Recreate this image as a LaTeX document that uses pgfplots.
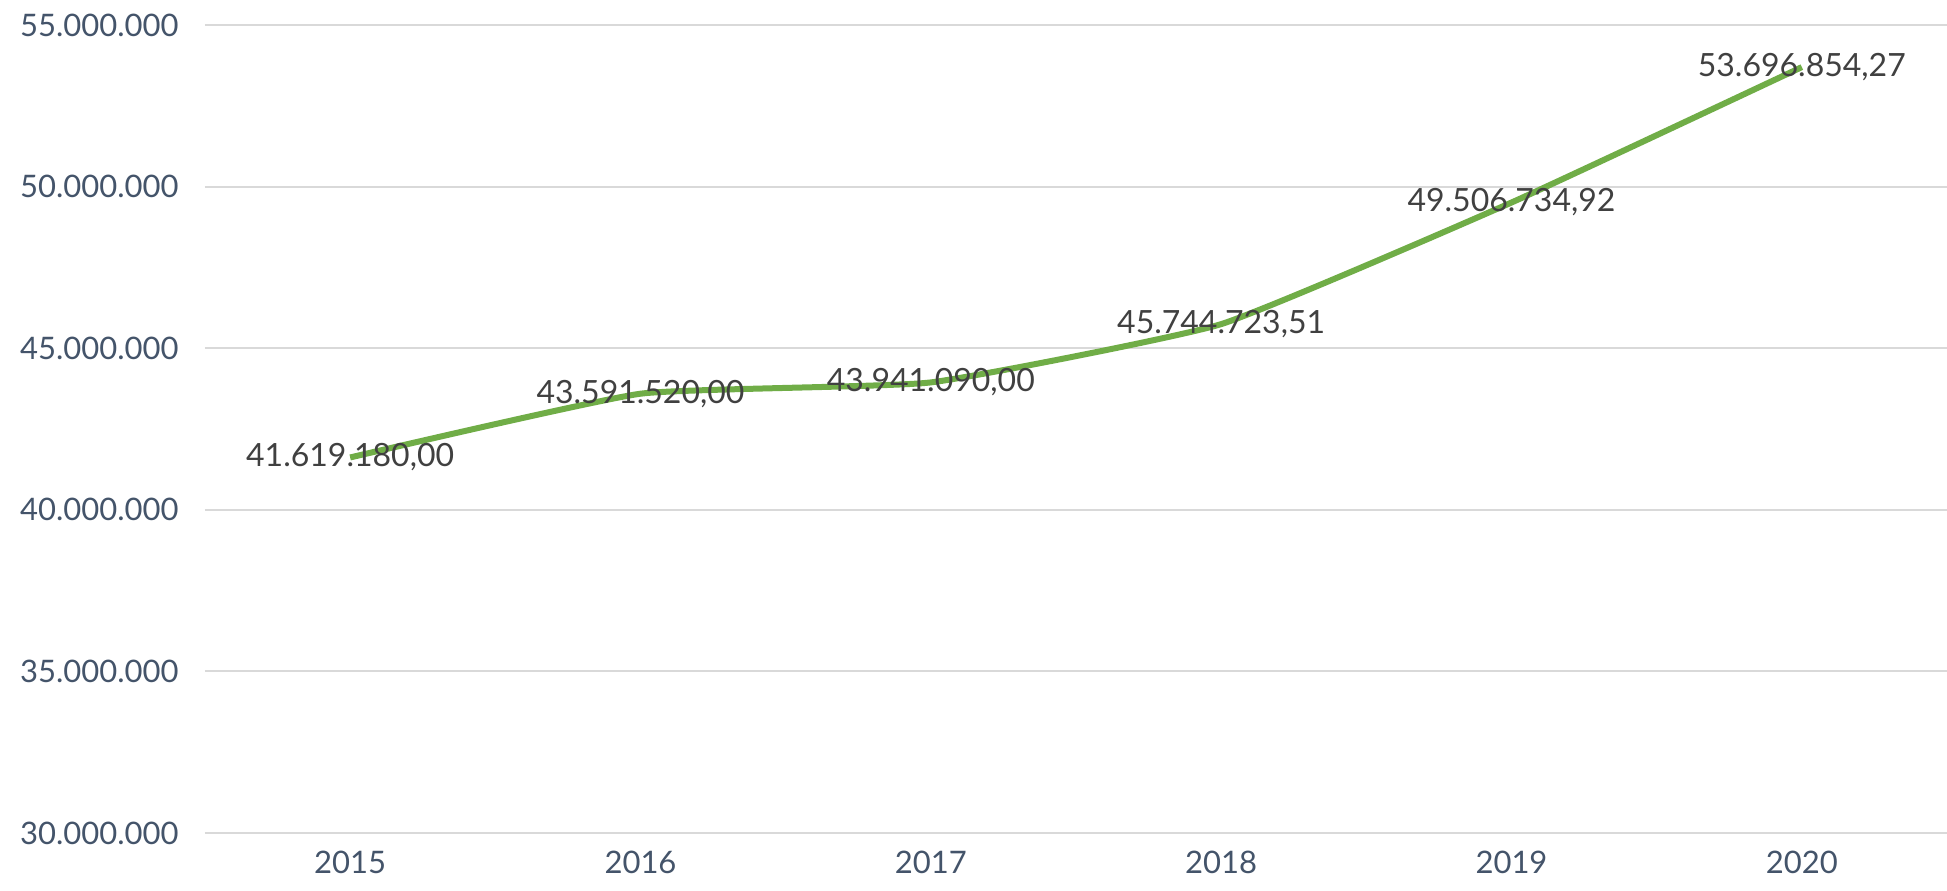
\documentclass[border=0pt]{standalone}
\usepackage{pgfplots}
\pgfplotsset{compat=1.18}
\usepackage{pgfplotstable}
\usepackage{fontspec}
\setmainfont{Lato}
\definecolor{linegreen}{HTML}{70AD47}
\definecolor{ticktext}{HTML}{44546A}
\definecolor{labeltext}{HTML}{404040}
\definecolor{gridgray}{HTML}{D9D9D9}

\pgfplotstableread{
x year value lab
0 2015 41619180.00 41.619.180,00
1 2016 43591520.00 43.591.520,00
2 2017 43941090.00 43.941.090,00
3 2018 45744723.51 45.744.723,51
4 2019 49506734.92 49.506.734,92
5 2020 53696854.27 53.696.854,27
}\datatable

\begin{document}
\begin{tikzpicture}
\begin{axis}[
    scale only axis,
    width=871pt, height=404pt,
    xmin=-0.5, xmax=5.5,
    ymin=30000000, ymax=55000000,
    scaled y ticks=false,
    axis line style={draw=none},
    major tick length=0pt,
    xtick={0,...,5},
    xticklabels={2015,2016,2017,2018,2019,2020},
    ytick={30000000,35000000,40000000,45000000,50000000,55000000},
    yticklabels={30.000.000,35.000.000,40.000.000,45.000.000,50.000.000,55.000.000},
    ymajorgrids,
    grid style={gridgray, line width=1pt},
    tick label style={font=\fontsize{15.5}{18}\selectfont, text=ticktext, inner sep=1pt},
    yticklabel style={xshift=-12pt},
    xticklabel style={yshift=-8pt},
    clip=false,
]
\addplot[linegreen, line width=3pt, smooth, tension=0.25,
    nodes near coords={\pgfplotspointmeta},
    point meta=explicit symbolic,
    every node near coord/.style={anchor=center, text=labeltext, font=\fontsize{16}{19}\selectfont},
] table[x=x, y=value, meta=lab] {\datatable};
\coordinate (sw) at (rel axis cs:0,0);
\coordinate (ne) at (rel axis cs:1,1);
\end{axis}
\pgfresetboundingbox
\path ([xshift=-102.5pt, yshift=-29pt]sw) rectangle ([yshift=12.5pt]ne);
\end{tikzpicture}
\end{document}
